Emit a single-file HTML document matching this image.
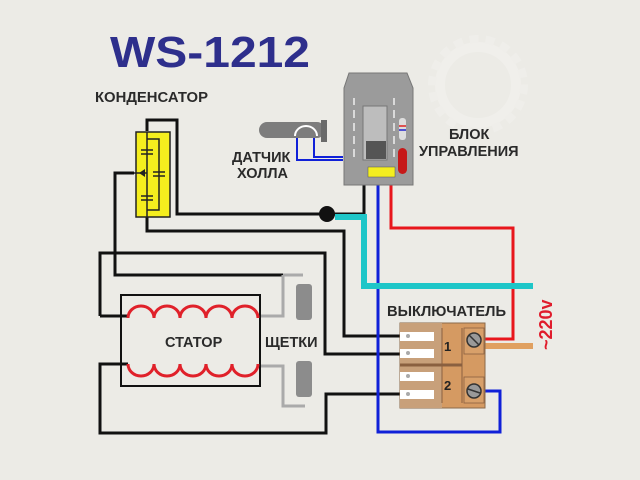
<!DOCTYPE html>
<html><head><meta charset="utf-8"><style>
html,body{margin:0;padding:0;background:#ecebe6;}
svg{display:block}
text{font-family:"Liberation Sans",sans-serif;font-weight:bold;}
</style></head><body>
<svg width="640" height="480" viewBox="0 0 640 480" xmlns="http://www.w3.org/2000/svg">
<rect width="640" height="480" fill="#ecebe6"/>
<!-- faint gear logo -->
<circle cx="478" cy="85" r="38" fill="none" stroke="#f0efeb" stroke-width="10"/>
<circle cx="478" cy="85" r="46" fill="none" stroke="#efeeea" stroke-width="8" stroke-dasharray="9 7"/>

<text x="110" y="67" font-size="44" fill="#2e2f8c" textLength="200" lengthAdjust="spacingAndGlyphs">WS-1212</text>
<text x="95" y="102" font-size="14.5" fill="#2a2a2a" textLength="113" lengthAdjust="spacingAndGlyphs">КОНДЕНСАТОР</text>
<text x="232" y="162" font-size="14.5" fill="#2a2a2a">ДАТЧИК</text>
<text x="237" y="178" font-size="14.5" fill="#2a2a2a">ХОЛЛА</text>
<text x="449" y="139" font-size="14.5" fill="#2a2a2a">БЛОК</text>
<text x="419" y="156" font-size="14.5" fill="#2a2a2a">УПРАВЛЕНИЯ</text>
<text x="165" y="347" font-size="14.5" fill="#2a2a2a">СТАТОР</text>
<text x="265" y="347" font-size="14.5" fill="#2a2a2a">ЩЕТКИ</text>
<text x="387" y="316" font-size="14.5" fill="#2a2a2a" textLength="119" lengthAdjust="spacingAndGlyphs">ВЫКЛЮЧАТЕЛЬ</text>
<text transform="translate(552,350) rotate(-90)" font-size="18" fill="#e01c2c">~220v</text>

<!-- wires -->
<g fill="none" stroke-width="3" stroke-linejoin="miter">
<polyline points="147,131 147,120 177,120 177,214 327,214" stroke="#111"/>
<polyline points="327,214 364,214 364,185" stroke="#111"/>
<polyline points="147,217 147,231 344,231 344,336 400,336" stroke="#111"/>
<polyline points="134,173 115,173 115,275 283,275" stroke="#111"/>
<polyline points="100,316 100,253 325,253 325,354 400,354" stroke="#111"/>
<polyline points="100,316 128,316" stroke="#111"/>
<polyline points="128,364 100,364 100,433 326,433 326,394 400,394" stroke="#111"/>
<polyline points="283,275 283,316 258,316" stroke="#aaa"/>
<polyline points="258,366 283,366 283,406 305,406" stroke="#aaa"/>
<polyline points="283,275 303,275" stroke="#aaa"/>
<polyline points="391,185 391,228 513,228 513,339 485,339" stroke="#e8161c"/>
<polyline points="378,185 378,432 500,432 500,391 485,391" stroke="#1020d8"/>
<polyline points="297,136 297,160 343,160" stroke="#1020d8" stroke-width="2"/>
<polyline points="314,136 314,157 343,157" stroke="#1020d8" stroke-width="2"/>
</g>
<polyline points="335,217 364,217 364,286 533,286" fill="none" stroke="#1ec6c8" stroke-width="6"/>
<line x1="485" y1="346" x2="533" y2="346" stroke="#e0a060" stroke-width="6"/>
<circle cx="327" cy="214" r="8" fill="#111"/>

<!-- capacitor -->
<rect x="136" y="132" width="34" height="85" fill="#f5ee1e" stroke="#222" stroke-width="1.5"/>
<g stroke="#222" stroke-width="1.5" fill="none">
<line x1="147" y1="132" x2="147" y2="217"/>
<polyline points="147,139 159,139 159,210 147,210"/>
<line x1="141" y1="150" x2="153" y2="150"/><line x1="141" y1="154" x2="153" y2="154"/>
<line x1="153" y1="172" x2="165" y2="172"/><line x1="153" y1="176" x2="165" y2="176"/>
<line x1="141" y1="196" x2="153" y2="196"/><line x1="141" y1="200" x2="153" y2="200"/>
<line x1="134" y1="173" x2="147" y2="173"/>
</g>
<polygon points="139,173 145,169 145,177" fill="#222"/>

<!-- stator -->
<rect x="121" y="295" width="139" height="91" fill="none" stroke="#111" stroke-width="2"/>
<g fill="none" stroke="#e0212a" stroke-width="3">
<path d="M128,318 a13,12 0 0 1 26,0 a13,12 0 0 1 26,0 a13,12 0 0 1 26,0 a13,12 0 0 1 26,0 a13,12 0 0 1 26,0"/>
<path d="M128,364 a13,12 0 0 0 26,0 a13,12 0 0 0 26,0 a13,12 0 0 0 26,0 a13,12 0 0 0 26,0 a13,12 0 0 0 26,0"/>
</g>
<!-- brushes -->
<rect x="296" y="284" width="16" height="36" rx="3" fill="#8c8c8c"/>
<rect x="296" y="361" width="16" height="36" rx="3" fill="#8c8c8c"/>

<!-- hall sensor -->
<rect x="259" y="122" width="66" height="16" rx="8" fill="#7d7d7d"/>
<rect x="321" y="120" width="6" height="22" fill="#6a6a6a"/>
<path d="M295,136 a11,10 0 0 1 22,0" fill="none" stroke="#fff" stroke-width="2"/>

<!-- control block -->
<polygon points="349,73 407,73 413,88 413,185 344,185 344,88" fill="#9b9b9b" stroke="#777" stroke-width="1"/>
<g stroke="#eee" stroke-width="1.5">
<line x1="354" y1="98" x2="354" y2="105"/><line x1="354" y1="110" x2="354" y2="118"/><line x1="354" y1="123" x2="354" y2="131"/><line x1="354" y1="136" x2="354" y2="144"/><line x1="354" y1="149" x2="354" y2="157"/>
<line x1="394" y1="98" x2="394" y2="105"/><line x1="394" y1="110" x2="394" y2="118"/><line x1="394" y1="123" x2="394" y2="131"/><line x1="394" y1="136" x2="394" y2="144"/><line x1="394" y1="149" x2="394" y2="157"/>
</g>
<rect x="363" y="106" width="24" height="54" fill="#bdbdbd" stroke="#777"/>
<rect x="366" y="141" width="20" height="18" fill="#555"/>
<rect x="368" y="167" width="27" height="10" fill="#f3ee20" stroke="#555" stroke-width="0.5"/>
<rect x="398" y="148" width="9" height="26" rx="4.5" fill="#c61818"/>
<rect x="399" y="118" width="7" height="22" rx="3" fill="#ddd"/>
<line x1="399" y1="126" x2="406" y2="126" stroke="#d22" stroke-width="1.5"/>
<line x1="399" y1="130" x2="406" y2="130" stroke="#22c" stroke-width="1.5"/>

<!-- switch -->
<rect x="400" y="323" width="85" height="85" fill="#d59a62" stroke="#8a6a4a" stroke-width="1"/>
<rect x="400" y="323" width="42" height="85" fill="#c8a07a"/>
<line x1="400" y1="365" x2="462" y2="365" stroke="#8a6040" stroke-width="3"/>
<line x1="442" y1="328" x2="442" y2="403" stroke="#8a6040" stroke-width="1"/>
<line x1="462" y1="328" x2="462" y2="403" stroke="#8a6040" stroke-width="1"/>
<rect x="464" y="328" width="20" height="26" fill="#d8a06a" stroke="#8a6040" stroke-width="0.8"/>
<rect x="464" y="377" width="20" height="26" fill="#d8a06a" stroke="#8a6040" stroke-width="0.8"/>
<g fill="#fff"><rect x="400" y="332" width="34" height="9"/><rect x="400" y="349" width="34" height="9"/><rect x="400" y="372" width="34" height="9"/><rect x="400" y="390" width="34" height="9"/></g>
<g fill="#aaa"><circle cx="408" cy="336" r="2"/><circle cx="408" cy="353" r="2"/><circle cx="408" cy="376" r="2"/><circle cx="408" cy="394" r="2"/></g>
<text x="444" y="351" font-size="13" fill="#222">1</text>
<text x="444" y="390" font-size="13" fill="#222">2</text>
<g fill="#999" stroke="#333" stroke-width="1.5">
<circle cx="474" cy="340" r="7"/><circle cx="474" cy="391" r="7"/></g>
<line x1="469" y1="335" x2="479" y2="345" stroke="#333" stroke-width="1.5"/>
<line x1="468" y1="389" x2="480" y2="393" stroke="#333" stroke-width="1.5"/>
</svg>
</body></html>
